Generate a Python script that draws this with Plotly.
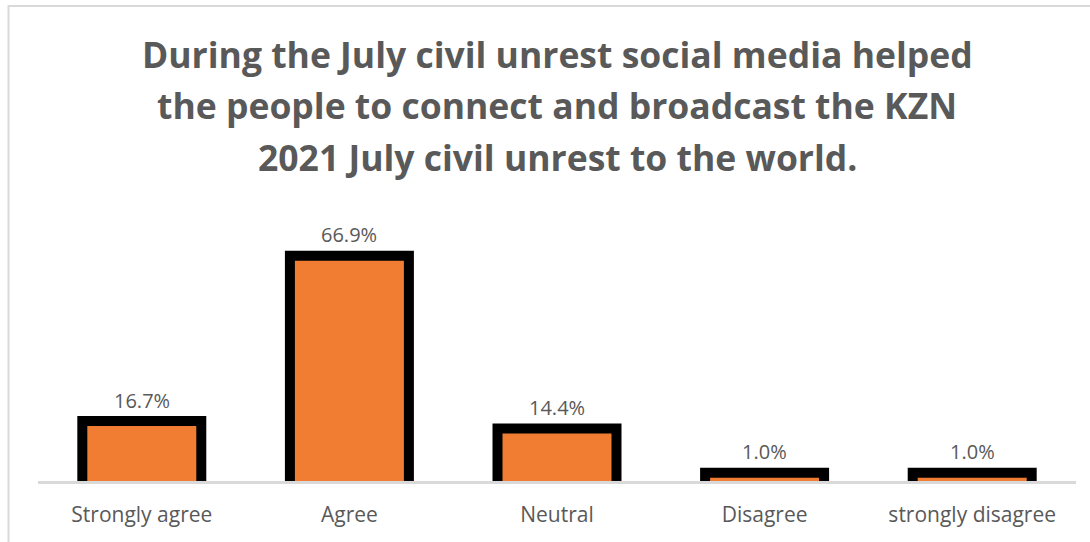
import plotly.graph_objects as go

# Survey responses
categories = ["Strongly agree", "Agree", "Neutral", "Disagree", "strongly disagree"]
percentages = [16.7, 66.9, 14.4, 1.0, 1.0]
value_labels = ["16.7%", "66.9%", "14.4%", "1.0%", "1.0%"]

title_lines = [
    "During the July civil unrest social media helped",
    "the people to connect and broadcast the KZN",
    "2021 July civil unrest to the world.",
]

W, H = 1090, 542
M_L, M_R, M_T, M_B = 38, 14, 234, 60.5
Y_MAX = 75
TEXT = "#595959"
FONT = "Open Sans"

plot_w = W - M_L - M_R
plot_h = H - M_T - M_B


def px_x(x):
    return (x - M_L) / plot_w


def px_y(y):
    return (H - M_B - y) / plot_h


fig = go.Figure()

# black frame: thick outline, its inner half hidden by the fill trace
fig.add_trace(go.Bar(
    x=categories, y=percentages, width=0.525,
    marker=dict(color="black", line=dict(color="black", width=20)),
    hoverinfo="skip", showlegend=False,
))
# orange fill
fig.add_trace(go.Bar(
    x=categories, y=percentages, width=0.525,
    marker=dict(color="#F07D32", line=dict(width=0)),
    customdata=value_labels,
    hovertemplate="%{x}: %{customdata}<extra></extra>",
    showlegend=False,
))

annotations = []
for cat, val, lab in zip(categories, percentages, value_labels):
    annotations.append(dict(
        x=cat, y=val, xref="x", yref="y", text=lab, showarrow=False,
        yanchor="middle", yshift=26,
        font=dict(family=FONT, size=20, color=TEXT),
    ))

for line, yc in zip(title_lines, [53.5, 105, 156.5]):
    annotations.append(dict(
        x=0.5, y=px_y(yc), xref="paper", yref="paper", text="<b>%s</b>" % line,
        showarrow=False, xanchor="center", yanchor="middle",
        font=dict(family=FONT, size=35.5, color=TEXT),
    ))

fig.update_layout(
    width=W, height=H,
    margin=dict(l=M_L, r=M_R, t=M_T, b=M_B, pad=0),
    paper_bgcolor="white", plot_bgcolor="white",
    barmode="overlay",
    annotations=annotations,
    shapes=[dict(
        type="rect", xref="paper", yref="paper",
        x0=px_x(8.5), x1=px_x(W + 20), y0=px_y(H + 20), y1=px_y(5.5),
        line=dict(color="#D9D9D9", width=2), fillcolor="rgba(0,0,0,0)",
        layer="below",
    )],
    xaxis=dict(
        showline=True, linecolor="#D9D9D9", linewidth=3, ticks="",
        showgrid=False, tickfont=dict(family=FONT, size=21, color=TEXT),
        ticklabelstandoff=13, fixedrange=True,
    ),
    yaxis=dict(
        range=[0, Y_MAX], visible=False, showgrid=False, zeroline=False,
        fixedrange=True,
    ),
)

fig.write_html("out.html", config={"displayModeBar": False})
